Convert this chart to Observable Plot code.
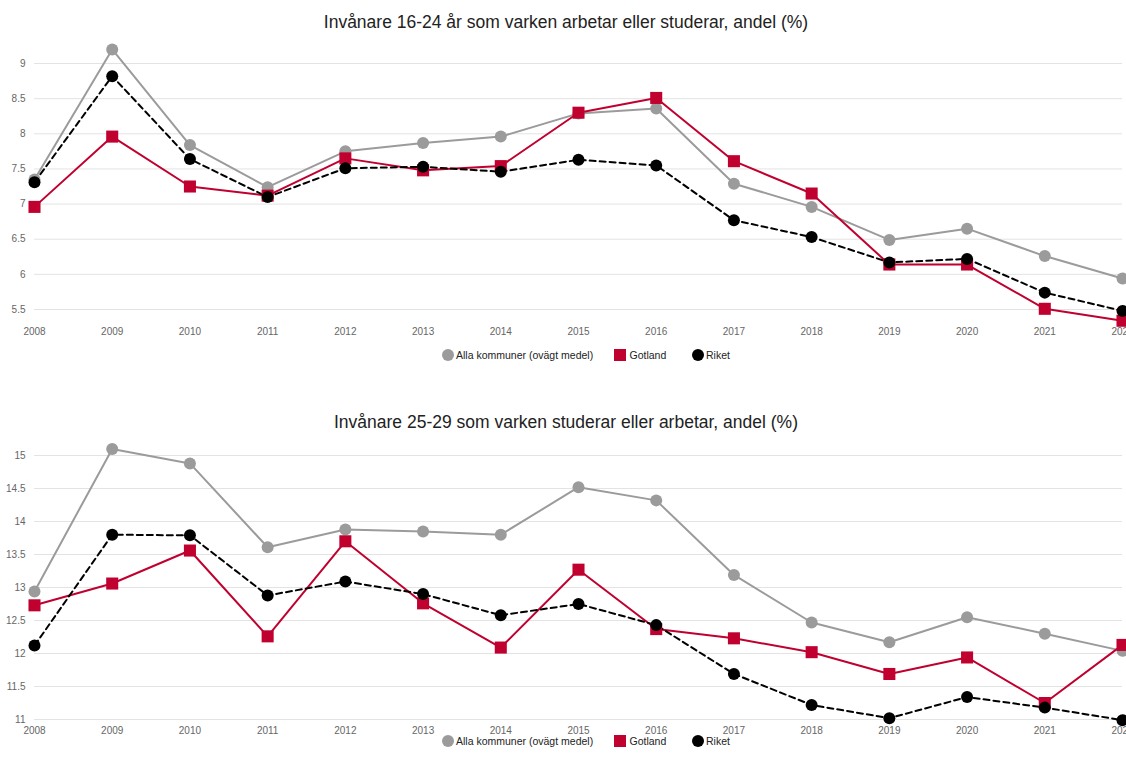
<!DOCTYPE html>
<html>
<head>
<meta charset="utf-8">
<script src="https://cdn.jsdelivr.net/npm/d3@7"></script>
<script src="https://cdn.jsdelivr.net/npm/@observablehq/plot@0.6"></script>
<style>
  html, body { margin:0; padding:0; background:#fff; overflow:hidden; }
  body { width:1126px; height:761px; position:relative; font-family:"Liberation Sans", Arial, sans-serif; }
  .title { position:absolute; left:566px; transform:translateX(-50%); white-space:nowrap; font-size:17.5px; line-height:20px; color:#222; }
  .chart { position:absolute; left:0; }
  .leg { position:absolute; font-size:10.5px; line-height:12px; color:#222; white-space:nowrap; }
  .sw { position:absolute; }
</style>
</head>
<body>
<script>
// ---- data ----
const years = [2008, 2009, 2010, 2011, 2012, 2013, 2014, 2015, 2016, 2017, 2018, 2019, 2020, 2021, 2022];

const seriesNames = ["Alla kommuner (ovägt medel)", "Gotland", "Riket"];

// Chart 1: 16-24 år
const title1 = "Invånare 16-24 år som varken arbetar eller studerar, andel (%)";
const alla16    = [7.35, 9.20, 7.84, 7.24, 7.75, 7.87, 7.96, 8.29, 8.36, 7.29, 6.96, 6.49, 6.65, 6.26, 5.94];
const gotland16 = [6.96, 7.96, 7.25, 7.12, 7.65, 7.48, 7.54, 8.30, 8.51, 7.61, 7.15, 6.14, 6.14, 5.51, 5.34];
const riket16   = [7.31, 8.82, 7.64, 7.10, 7.51, 7.53, 7.46, 7.63, 7.55, 6.77, 6.53, 6.17, 6.22, 5.74, 5.48];
const yTicks1 = [5.5, 6, 6.5, 7, 7.5, 8, 8.5, 9];

// Chart 2: 25-29
const title2 = "Invånare 25-29 som varken studerar eller arbetar, andel (%)";
const alla25    = [12.94, 15.10, 14.88, 13.61, 13.88, 13.85, 13.80, 14.52, 14.32, 13.19, 12.47, 12.17, 12.55, 12.30, 12.04];
const gotland25 = [12.73, 13.06, 13.56, 12.26, 13.70, 12.76, 12.09, 13.27, 12.37, 12.23, 12.02, 11.69, 11.94, 11.25, 12.13];
const riket25   = [12.12, 13.80, 13.79, 12.88, 13.09, 12.90, 12.58, 12.75, 12.43, 11.69, 11.22, 11.02, 11.34, 11.18, 10.99];
const yTicks2 = [11, 11.5, 12, 12.5, 13, 13.5, 14, 14.5, 15];

// ---- styles ----
const GRAY = "#9b9b9b", RED = "#c0002e", BLACK = "#000000";

function toRows(vals) { return years.map((y, i) => ({year: y, value: vals[i]})); }

function makeChart({alla, gotland, riket, yTicks, top, height, marginTop, marginBottom, xPad}) {
  const a = toRows(alla), g = toRows(gotland), r = toRows(riket);
  const svg = Plot.plot({
    width: 1126,
    height,
    marginLeft: 34,
    marginRight: 4,
    marginTop,
    marginBottom,
    x: {type: "linear", domain: [years[0], years[years.length - 1]], label: null},
    y: {domain: [yTicks[0], yTicks[yTicks.length - 1]], label: null},
    style: {fontFamily: "'Liberation Sans', Arial, sans-serif", fontSize: "10px", color: "#666", background: "transparent", overflow: "visible"},
    marks: [
      Plot.gridY({ticks: yTicks, stroke: "#e3e3e3", strokeOpacity: 1, strokeWidth: 1}),
      Plot.axisX({ticks: years, tickSize: 0, tickPadding: xPad, tickFormat: d => String(d), label: null, fill: "#666"}),
      Plot.axisY({ticks: yTicks, tickSize: 0, tickPadding: 9, tickFormat: d => String(d), label: null, fill: "#666"}),
      Plot.line(a, {x: "year", y: "value", stroke: GRAY, strokeWidth: 2}),
      Plot.line(g, {x: "year", y: "value", stroke: RED, strokeWidth: 2}),
      Plot.line(r, {x: "year", y: "value", stroke: BLACK, strokeWidth: 2, strokeDasharray: "6,4"}),
      Plot.dot(a, {x: "year", y: "value", r: 6, fill: GRAY}),
      Plot.dot(g, {x: "year", y: "value", r: 6.8, symbol: "square", fill: RED}),
      Plot.dot(r, {x: "year", y: "value", r: 6, fill: BLACK})
    ]
  });
  svg.classList.add("chart");
  svg.style.top = top + "px";
  document.body.appendChild(svg);
}

function addTitle(text, top) {
  const d = document.createElement("div");
  d.className = "title";
  d.style.top = top + "px";
  d.textContent = text;
  document.body.appendChild(d);
}

function addLegend(cy) {
  const items = [
    {name: seriesNames[0], color: GRAY, shape: "circle", cx: 447.7, tx: 456},
    {name: seriesNames[1], color: RED, shape: "square", cx: 620, tx: 629.5},
    {name: seriesNames[2], color: BLACK, shape: "circle", cx: 697.7, tx: 706}
  ];
  for (const it of items) {
    const s = document.createElementNS("http://www.w3.org/2000/svg", "svg");
    s.setAttribute("width", 14); s.setAttribute("height", 14);
    s.setAttribute("class", "sw");
    s.style.left = (it.cx - 7) + "px";
    s.style.top = (cy - 7) + "px";
    if (it.shape === "circle") {
      s.innerHTML = `<circle cx="7" cy="7" r="6" fill="${it.color}"/>`;
    } else {
      s.innerHTML = `<rect x="1" y="1" width="12" height="12" fill="${it.color}"/>`;
    }
    document.body.appendChild(s);
    const t = document.createElement("div");
    t.className = "leg";
    t.style.left = it.tx + "px";
    t.style.top = (cy - 6) + "px";
    t.textContent = it.name;
    document.body.appendChild(t);
  }
}

addTitle(title1, 12);
makeChart({alla: alla16, gotland: gotland16, riket: riket16, yTicks: yTicks1, top: 40, height: 300, marginTop: 23, marginBottom: 31, xPad: 18});
addLegend(354.5);

addTitle(title2, 412);
makeChart({alla: alla25, gotland: gotland25, riket: riket25, yTicks: yTicks2, top: 430, height: 320, marginTop: 25, marginBottom: 31, xPad: 7});
addLegend(741);
</script>
</body>
</html>
